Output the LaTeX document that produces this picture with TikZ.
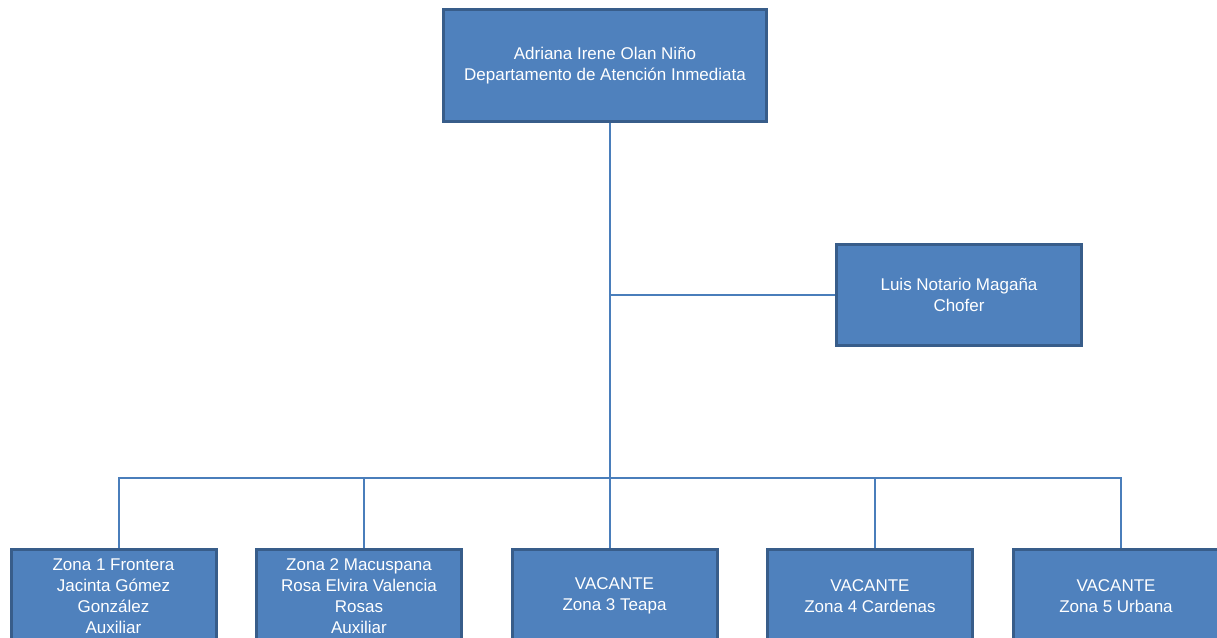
\documentclass[tikz,border=0pt]{standalone}
\usepackage{fontspec}
\setmainfont{Liberation Sans}
\definecolor{boxfill}{HTML}{4F81BD}
\definecolor{boxedge}{HTML}{385D8A}
\definecolor{linkcol}{HTML}{4A7EBB}
\begin{document}
\begin{tikzpicture}[x=1pt,y=-1pt,
  orgbox/.style={draw=boxedge, line width=3pt, fill=boxfill, text=white,
    align=center, font=\fontsize{17}{21}\selectfont, inner sep=0pt},
  zonebox/.style={orgbox, minimum width=205pt, minimum height=93pt},
  link/.style={draw=linkcol, line width=1.8pt}]
\useasboundingbox (0,0) rectangle (1217,637);
\clip (0,0) rectangle (1217,637);

% head of department
\node[orgbox, minimum width=323pt, minimum height=112pt] (head) at (605,65.5)
  {Adriana Irene Olan Niño\\Departamento de Atención Inmediata};
% driver
\node[orgbox, minimum width=245pt, minimum height=101pt] (chofer) at (959,295)
  {Luis Notario Magaña\\Chofer};

% zones
\node[zonebox] (z1) at (113.5,596) {Zona 1 Frontera\\Jacinta Gómez\\González\\Auxiliar};
\node[zonebox] (z2) at (359,596) {Zona 2 Macuspana\\Rosa Elvira Valencia\\Rosas\\Auxiliar};
\node[zonebox] (z3) at (614.5,596) {VACANTE\\Zona 3 Teapa};
\node[zonebox] (z4) at (870,596) {VACANTE\\Zona 4 Cardenas};
\node[zonebox] (z5) at (1116,596) {VACANTE\\Zona 5 Urbana};

% connector routing points
\coordinate (trunk) at (610,478);
\coordinate (d1) at (119,478);
\coordinate (d2) at (364,478);
\coordinate (d4) at (875,478);
\coordinate (d5) at (1121,478);

\draw[link] (head.south -| trunk) -- (z3.north -| trunk);
\draw[link] (chofer.west) -- (chofer.west -| trunk);
\draw[link] (z1.north -| d1) -- (d1) -- (d5) -- (z5.north -| d5);
\draw[link] (z2.north -| d2) -- (d2);
\draw[link] (z4.north -| d4) -- (d4);
\end{tikzpicture}
\end{document}
